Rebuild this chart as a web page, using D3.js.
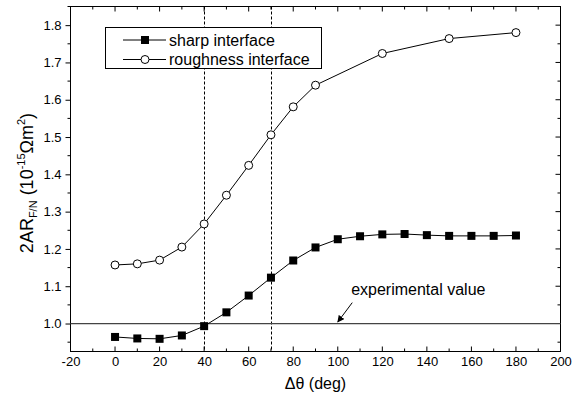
<!DOCTYPE html>
<html>
<head>
<meta charset="utf-8">
<script src="https://cdn.jsdelivr.net/npm/d3@7"></script>
<style>
  html, body { margin: 0; padding: 0; background: #fff; }
  svg text { font-family: "Liberation Sans", Arial, sans-serif; fill: #000; }
</style>
</head>
<body>
<svg id="chart" width="580" height="404"></svg>
<script>
// ---- data ----
const sharpX = [0, 10, 20, 30, 40, 50, 60, 70, 80, 90, 100, 110, 120, 130, 140, 150, 160, 170, 180];
const sharpY = [0.964, 0.960, 0.959, 0.968, 0.993, 1.030, 1.075, 1.123, 1.169, 1.204, 1.226, 1.234, 1.239, 1.240, 1.237, 1.235, 1.235, 1.235, 1.236];
const roughX = [0, 10, 20, 30, 40, 50, 60, 70, 80, 90, 120, 150, 180];
const roughY = [1.157, 1.160, 1.170, 1.205, 1.267, 1.344, 1.424, 1.506, 1.581, 1.639, 1.724, 1.764, 1.780];
const markerLines = [40, 70];
const experimentalValue = 1.0;
const xTicks = [-20, 0, 20, 40, 60, 80, 100, 120, 140, 160, 180, 200];
const yTicks = [1.0, 1.1, 1.2, 1.3, 1.4, 1.5, 1.6, 1.7, 1.8];
const xDomain = [-20, 200];
const yDomain = [0.925, 1.85];
const seriesNames = ["sharp interface", "roughness interface"];

// ---- layout ----
const W = 580, H = 404;
const m = { left: 70.5, right: 19.5, top: 6.5, bottom: 52.5 };
const svg = d3.select("#chart");
const x = d3.scaleLinear().domain(xDomain).range([m.left, W - m.right]);
const y = d3.scaleLinear().domain(yDomain).range([H - m.bottom, m.top]);

const xMinor = d3.range(-10, 200, 20);
const yMinor = d3.range(0.95, 1.86, 0.1).map(v => +v.toFixed(2));

// bottom axis (inward ticks)
const gB = svg.append("g").attr("transform", `translate(0,${H - m.bottom})`);
gB.call(d3.axisBottom(x).tickValues(xTicks).tickSize(0).tickPadding(5).tickFormat(d => String(d)))
  .call(g => g.select(".domain").remove());
gB.selectAll("text").attr("font-size", 13);
gB.selectAll(".tick line").remove();
gB.append("g").selectAll("line").data(xTicks).join("line")
  .attr("x1", d => x(d)).attr("x2", d => x(d)).attr("y1", 0).attr("y2", -5).attr("stroke", "#000");
gB.append("g").selectAll("line").data(xMinor).join("line")
  .attr("x1", d => x(d)).attr("x2", d => x(d)).attr("y1", 0).attr("y2", -3).attr("stroke", "#000");

// left axis (outward)
const gL = svg.append("g").attr("transform", `translate(${m.left},0)`);
gL.call(d3.axisLeft(y).tickValues(yTicks).tickSize(5).tickPadding(4).tickFormat(d3.format(".1f")))
  .call(g => g.select(".domain").remove());
gL.selectAll("text").attr("font-size", 13);
gL.append("g").selectAll("line").data(yMinor).join("line")
  .attr("x1", 0).attr("x2", -3).attr("y1", d => y(d)).attr("y2", d => y(d)).attr("stroke", "#000");

// top axis (inward)
const gT = svg.append("g").attr("transform", `translate(0,${m.top})`);
gT.selectAll("line.maj").data(xTicks).join("line").attr("class", "maj")
  .attr("x1", d => x(d)).attr("x2", d => x(d)).attr("y1", 0).attr("y2", 5).attr("stroke", "#000");
gT.selectAll("line.min").data(xMinor).join("line").attr("class", "min")
  .attr("x1", d => x(d)).attr("x2", d => x(d)).attr("y1", 0).attr("y2", 3).attr("stroke", "#000");

// right axis (inward)
const gR = svg.append("g").attr("transform", `translate(${W - m.right},0)`);
gR.selectAll("line.maj").data(yTicks).join("line").attr("class", "maj")
  .attr("x1", 0).attr("x2", -5).attr("y1", d => y(d)).attr("y2", d => y(d)).attr("stroke", "#000");
gR.selectAll("line.min").data(yMinor).join("line").attr("class", "min")
  .attr("x1", 0).attr("x2", -3).attr("y1", d => y(d)).attr("y2", d => y(d)).attr("stroke", "#000");

// frame
svg.append("rect").attr("x", m.left).attr("y", m.top)
  .attr("width", W - m.left - m.right).attr("height", H - m.top - m.bottom)
  .attr("fill", "none").attr("stroke", "#000").attr("stroke-width", 1);

// dashed vertical lines
svg.append("g").selectAll("line").data(markerLines).join("line")
  .attr("x1", d => Math.round(x(d)) + 0.5).attr("x2", d => Math.round(x(d)) + 0.5)
  .attr("y1", y(yDomain[1])).attr("y2", y(yDomain[0]))
  .attr("stroke", "#000").attr("stroke-width", 1).attr("stroke-dasharray", "3,2");

// experimental line
svg.append("line")
  .attr("x1", x(xDomain[0])).attr("x2", x(xDomain[1]))
  .attr("y1", y(experimentalValue)).attr("y2", y(experimentalValue))
  .attr("stroke", "#444").attr("stroke-width", 1.2);

// annotation
svg.append("text").attr("x", x(106)).attr("y", y(1.09) + 5)
  .attr("font-size", 16).text("experimental value");
svg.append("defs").append("marker").attr("id", "arr")
  .attr("viewBox", "0 0 10 10").attr("refX", 9).attr("refY", 5)
  .attr("markerWidth", 7).attr("markerHeight", 7).attr("orient", "auto")
  .append("path").attr("d", "M0,0 L10,5 L0,10 z").attr("fill", "#000");
svg.append("line").attr("x1", x(106.5)).attr("y1", y(1.056))
  .attr("x2", x(100)).attr("y2", y(1.004))
  .attr("stroke", "#000").attr("stroke-width", 1).attr("marker-end", "url(#arr)");

// series
const line = d3.line().x(d => x(d[0])).y(d => y(d[1]));
const sharp = sharpX.map((v, i) => [v, sharpY[i]]);
const rough = roughX.map((v, i) => [v, roughY[i]]);
svg.append("path").datum(sharp).attr("d", line).attr("fill", "none").attr("stroke", "#000").attr("stroke-width", 1);
svg.append("path").datum(rough).attr("d", line).attr("fill", "none").attr("stroke", "#000").attr("stroke-width", 1);
const sq = 8;
svg.append("g").selectAll("rect").data(sharp).join("rect")
  .attr("x", d => x(d[0]) - sq / 2).attr("y", d => y(d[1]) - sq / 2)
  .attr("width", sq).attr("height", sq).attr("fill", "#000");
svg.append("g").selectAll("circle").data(rough).join("circle")
  .attr("cx", d => x(d[0])).attr("cy", d => y(d[1])).attr("r", 4)
  .attr("fill", "#fff").attr("stroke", "#000").attr("stroke-width", 1);

// legend
const lg = svg.append("g");
lg.append("rect").attr("x", 105.5).attr("y", 27.5).attr("width", 216).attr("height", 41)
  .attr("fill", "#fff").attr("stroke", "#000");
seriesNames.forEach((name, i) => {
  const cy = 40 + i * 19.5;
  lg.append("line").attr("x1", 123).attr("x2", 166).attr("y1", cy).attr("y2", cy).attr("stroke", "#000");
  if (i === 0) {
    lg.append("rect").attr("x", 145 - sq / 2).attr("y", cy - sq / 2).attr("width", sq).attr("height", sq).attr("fill", "#000");
  } else {
    lg.append("circle").attr("cx", 145).attr("cy", cy).attr("r", 4).attr("fill", "#fff").attr("stroke", "#000");
  }
  lg.append("text").attr("x", 169).attr("y", cy + 5.5).attr("font-size", 16).text(name);
});

// axis titles
svg.append("text").attr("x", (m.left + W - m.right) / 2).attr("y", 389)
  .attr("text-anchor", "middle").attr("font-size", 16).text("Δθ (deg)");

const yt = svg.append("text").attr("transform", `translate(33,${(m.top + H - m.bottom) / 2 + 4}) rotate(-90)`)
  .attr("text-anchor", "middle").attr("font-size", 18);
yt.append("tspan").text("2AR");
yt.append("tspan").attr("font-size", 11).attr("dy", 4).text("F/N");
yt.append("tspan").attr("dy", -4).text(" (10");
yt.append("tspan").attr("font-size", 11).attr("dy", -8).text("-15");
yt.append("tspan").attr("dy", 8).text("Ωm");
yt.append("tspan").attr("font-size", 11).attr("dy", -8).text("2");
yt.append("tspan").attr("dy", 8).text(")");
</script>
</body>
</html>
